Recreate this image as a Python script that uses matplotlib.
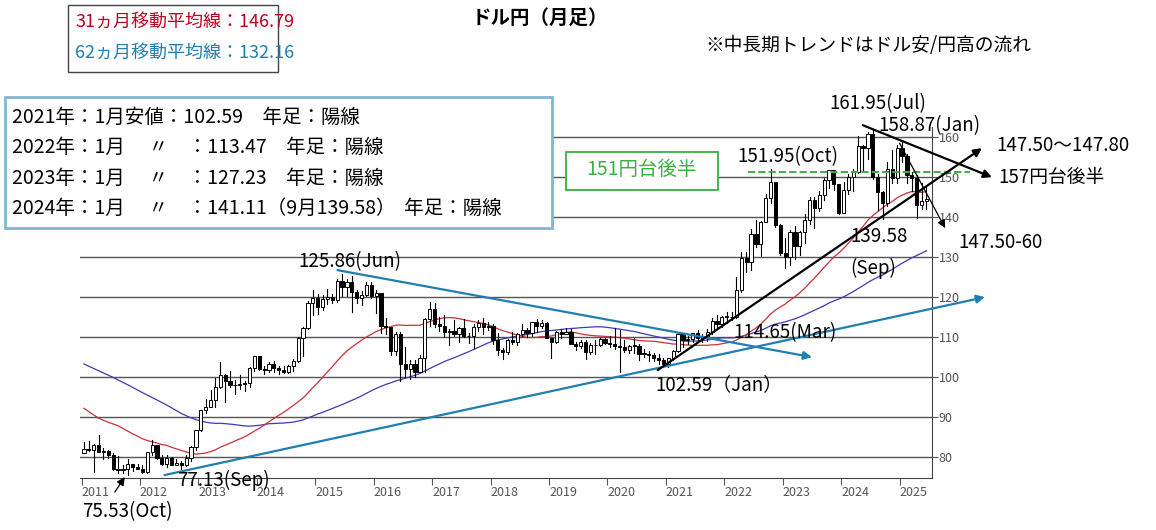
import numpy as np
import matplotlib
matplotlib.use("Agg")
import matplotlib.pyplot as plt
from matplotlib.patches import Rectangle

plt.rcParams["font.family"] = ["Noto Sans CJK JP", "DejaVu Sans"]

# closes before 2011 (Nov 2005 - Dec 2010), used for moving averages
prior_close = [119.8, 117.9,
 117.2,115.8,117.5,113.8,112.6,114.4,114.6,117.4,118.1,117.0,115.8,119.0,
 121.0,118.6,117.8,119.5,121.7,123.2,118.7,115.8,114.9,115.3,111.2,111.7,
 106.4,103.9,99.7,103.9,105.5,106.2,107.9,108.8,106.0,98.4,95.5,90.6,
 89.9,97.6,98.9,98.5,95.4,96.4,94.7,93.0,89.7,89.9,86.3,93.0,
 90.3,89.0,93.4,94.0,91.2,88.4,86.5,84.2,83.5,80.4,83.7,81.1]

# monthly OHLC Jan 2011 - Jun 2025
ohlc = [
 (81.1,83.7,81.5,82.0),(82.0,84.0,81.5,81.8),(81.8,83.3,76.3,83.1),(83.1,85.5,81.3,81.2),
 (81.2,82.2,79.6,81.5),(81.5,81.7,79.7,80.5),(80.5,81.0,76.8,77.0),(77.0,80.2,75.9,76.7),
 (76.7,77.9,75.9,77.0),(77.0,79.5,75.53,78.2),(78.2,78.3,76.6,77.6),(77.6,78.3,76.9,76.9),
 (76.9,77.9,76.0,76.2),(76.2,81.2,76.1,81.2),(81.2,84.2,80.6,82.9),(82.9,83.0,79.6,79.8),
 (79.8,80.4,78.0,78.3),(78.3,80.6,77.6,79.8),(79.8,79.9,77.9,78.1),(78.1,79.6,77.9,78.4),
 (78.4,78.9,77.13,77.9),(77.9,80.4,77.8,79.8),(79.8,82.8,79.0,82.5),(82.5,86.6,81.7,86.7),
 (86.7,91.7,86.5,91.7),(91.7,94.5,90.9,92.6),(92.6,96.7,92.6,94.2),(94.2,99.9,92.6,97.5),
 (97.5,103.7,97.2,100.5),(100.5,100.9,93.8,99.1),(99.1,101.5,97.6,97.9),(97.9,99.2,95.8,98.1),
 (98.1,100.6,96.9,98.3),(98.3,99.0,96.6,98.4),(98.4,102.6,97.6,102.4),(102.4,105.4,101.6,105.3),
 (105.3,105.4,101.8,102.0),(102.0,102.8,100.8,101.8),(101.8,103.8,101.2,103.2),(103.2,104.1,101.4,102.2),
 (102.2,102.8,100.8,101.8),(101.8,102.8,101.0,101.3),(101.3,103.1,101.0,102.8),(102.8,104.5,101.5,104.1),
 (104.1,110.1,103.8,109.7),(109.7,112.5,105.2,112.3),(112.3,118.98,112.0,118.6),(118.6,121.8,115.6,119.8),
 (119.8,120.8,115.9,117.5),(117.5,120.5,116.9,119.6),(119.6,122.0,118.3,120.1),(120.1,120.8,118.5,119.4),
 (119.4,124.5,118.9,124.1),(124.1,125.86,120.4,122.5),(122.5,124.6,120.4,123.9),(123.9,125.3,116.2,121.2),
 (121.2,121.7,118.6,119.9),(119.9,121.5,118.1,120.6),(120.6,123.8,120.3,123.1),(123.1,123.7,119.9,120.2),
 (120.2,121.7,115.97,121.0),(121.0,121.0,110.98,112.7),(112.7,114.9,110.7,112.5),(112.5,112.5,105.5,106.5),
 (106.5,111.4,105.5,110.7),(110.7,111.4,99.0,103.2),(103.2,107.5,99.99,102.1),(102.1,104.3,99.5,103.4),
 (103.4,104.3,100.1,101.3),(101.3,105.5,101.2,104.8),(104.8,114.8,101.2,114.5),(114.5,118.66,112.9,117.0),
 (117.0,118.6,112.5,113.2),(113.2,115.0,111.6,112.8),(112.8,115.5,110.1,111.4),(111.4,112.0,108.1,111.5),
 (111.5,114.4,110.2,110.8),(110.8,112.5,108.8,112.4),(112.4,114.5,110.0,110.3),(110.3,111.0,108.6,110.2),
 (110.2,113.2,107.3,112.5),(112.5,114.4,111.6,113.6),(113.6,114.7,110.8,112.5),(112.5,113.7,111.9,112.7),
 (112.7,113.4,108.3,109.2),(109.2,111.0,105.5,106.7),(106.7,107.3,104.6,106.3),(106.3,109.5,105.7,109.3),
 (109.3,111.4,108.2,108.8),(108.8,111.0,108.1,110.7),(110.7,113.2,110.3,111.9),(111.9,112.2,110.0,111.0),
 (111.0,113.7,110.4,113.7),(113.7,114.5,111.4,112.9),(112.9,114.2,112.3,113.5),(113.5,113.8,110.3,109.7),
 (109.7,109.7,104.7,108.9),(108.9,111.5,108.5,111.4),(111.4,112.1,109.7,110.9),(110.9,112.4,110.8,111.4),
 (111.4,112.0,108.3,108.3),(108.3,108.8,106.8,107.9),(107.9,109.3,107.2,108.8),(108.8,109.3,104.5,106.3),
 (106.3,108.5,105.7,108.1),(108.1,109.3,105.9,108.0),(108.0,109.7,107.9,109.5),(109.5,109.7,108.4,108.6),
 (108.6,110.3,107.6,108.4),(108.4,112.2,107.0,107.9),(107.9,111.7,101.2,107.5),(107.5,109.4,106.4,106.9),
 (106.9,108.1,105.99,107.8),(107.8,109.8,106.1,107.9),(107.9,108.2,104.2,105.9),(105.9,107.0,105.1,105.9),
 (105.9,106.6,104.0,105.5),(105.5,106.1,104.0,104.7),(104.7,105.7,103.2,104.3),(104.3,104.8,102.9,103.3),
 (103.3,104.9,102.59,104.7),(104.7,106.7,104.4,106.6),(106.6,110.97,106.4,110.7),(110.7,110.97,107.5,109.3),
 (109.3,110.2,108.3,109.6),(109.6,111.1,108.9,111.1),(111.1,111.7,109.1,109.7),(109.7,110.8,108.7,110.0),
 (110.0,112.1,109.1,111.3),(111.3,114.7,110.8,114.0),(114.0,115.5,112.5,113.2),(113.2,115.2,112.5,115.1),
 (115.1,116.35,113.47,115.1),(115.1,116.3,114.2,115.0),(115.0,125.1,114.7,121.7),(121.7,131.3,121.3,129.8),
 (129.8,131.3,126.4,128.7),(128.7,137.0,126.9,135.7),(135.7,139.4,132.5,133.2),(133.2,139.1,130.4,138.9),
 (138.9,145.9,138.8,144.7),(144.7,151.95,143.5,148.7),(148.7,148.8,137.5,138.0),(138.0,138.2,130.6,131.1),
 (131.1,134.8,127.23,130.1),(130.1,136.9,128.1,136.2),(136.2,137.9,129.6,132.8),(132.8,136.6,130.6,136.3),
 (136.3,140.9,133.5,139.3),(139.3,145.0,138.4,144.3),(144.3,145.1,137.2,142.3),(142.3,146.6,141.5,145.5),
 (145.5,149.7,144.4,149.4),(149.4,151.7,147.3,151.7),(151.7,151.9,146.7,148.2),(148.2,148.3,140.9,141.0),
 (141.0,148.8,141.11,146.9),(146.9,150.9,145.9,150.0),(150.0,151.97,146.5,151.3),(151.3,160.2,151.0,157.8),
 (157.8,157.99,151.9,157.3),(157.3,161.3,154.5,160.9),(160.9,161.95,149.6,150.0),(150.0,150.9,141.7,146.2),
 (146.2,146.5,139.58,143.6),(143.6,153.9,142.9,152.0),(152.0,156.75,148.6,149.8),(149.8,158.1,148.6,157.2),
 (157.2,158.87,153.7,155.2),(155.2,155.9,148.6,150.6),(150.6,151.3,146.5,149.9),(149.9,150.5,139.9,143.1),
 (143.1,148.6,142.1,144.0),(144.0,148.0,142.1,144.5),
]
start_year = 2011
year_ticks = list(range(2011, 2026))
price_ticks = [80, 90, 100, 110, 120, 130, 140, 150, 160]

o = np.array([r[0] for r in ohlc]); h = np.array([r[1] for r in ohlc])
l = np.array([r[2] for r in ohlc]); c = np.array([r[3] for r in ohlc])
n = len(ohlc)
x = start_year + (np.arange(n) + 0.5) / 12
allc = np.concatenate([prior_close, c])
def ma(k):
    return np.array([allc[len(prior_close)+i-k+1: len(prior_close)+i+1].mean() for i in range(n)])
ma31, ma62 = ma(31), ma(62)

fig = plt.figure(figsize=(11.56, 5.30), dpi=100)
ax = fig.add_axes([0.069, 0.098, 0.737, 0.662])
ax.set_xlim(2010.97, 2025.55)
ax.set_ylim(74.75, 162.5)
for v in price_ticks:
    ax.axhline(v, color="#555555", lw=1.0, zorder=1)

ax.plot(x, ma62, color="#3b3bb5", lw=0.9, zorder=2)
ax.plot(x, ma31, color="#c8303c", lw=0.9, zorder=2)

w = 0.055
for xi, oi, hi, li, ci in zip(x, o, h, l, c):
    ax.plot([xi, xi], [li, hi], color="black", lw=0.8, zorder=3)
    bot, top = min(oi, ci), max(oi, ci)
    ax.add_patch(Rectangle((xi - w/2, bot), w, max(top - bot, 0.15),
                           facecolor="black" if ci < oi else "white",
                           edgecolor="black", lw=0.7, zorder=4))

for s in ["top", "left"]:
    ax.spines[s].set_visible(False)
for s in ["bottom", "right"]:
    ax.spines[s].set_color("#444444")
ax.yaxis.tick_right()
ax.set_yticks(price_ticks)
ax.tick_params(axis="y", length=4, labelsize=9, colors="#555555", pad=1)
ax.set_xticks(year_ticks)
ax.set_xticklabels([str(y) for y in year_ticks], ha="left", fontsize=9, color="#555555")
ax.tick_params(axis="x", length=5, pad=1, colors="#555555")

def arrowline(p0, p1, color, lw=1.6, head=True):
    ax.annotate("", xy=p1, xytext=p0, annotation_clip=False,
                arrowprops=dict(arrowstyle="-|>" if head else "-", color=color, lw=lw,
                                mutation_scale=12, shrinkA=0, shrinkB=0), zorder=6)
arrowline((2015.38, 126.75), (2023.5, 105.0), "#1f7fb0")
arrowline((2012.42, 75.5), (2026.46, 120.0), "#1f7fb0")
arrowline((2020.86, 101.75), (2026.41, 157.25), "black")
arrowline((2024.37, 163.0), (2026.58, 150.0), "black")
arrowline((2025.0, 158.5), (2025.78, 137.25), "black", lw=0.9)
arrowline((2011.57, 71.25), (2011.74, 75.0), "black", lw=0.9)
ax.plot([2022.4, 2026.2], [151.25, 151.25], color="#3cb043", lw=1.4, ls="--", clip_on=False, zorder=5)

def ft(px, py, s, **kw):
    fig.text(px / 1156, 1 - py / 530, s, va="center", **kw)

ft(540, 18, "ドル円（月足）", fontsize=14, fontweight="bold", ha="center")
ft(705, 45, "※中長期トレンドはドル安/円高の流れ", fontsize=13.5)
fig.patches.append(Rectangle((68/1156, 1-72/530), 210/1156, 67/530, transform=fig.transFigure,
                             fill=False, edgecolor="#444444", lw=1.0))
ft(75, 22, "31ヵ月移動平均線：146.79", fontsize=13, color="#c00020")
ft(75, 53, "62ヵ月移動平均線：132.16", fontsize=13, color="#1f7fb0")
fig.patches.append(Rectangle((5/1156, 1-228/530), 547/1156, 131/530, transform=fig.transFigure,
                             facecolor="white", edgecolor="#7fb8d0", lw=2.0, zorder=10))
lines = ["2021年：1月安値：102.59　年足：陽線",
         "2022年：1月　 〃　：113.47　年足：陽線",
         "2023年：1月　 〃　：127.23　年足：陽線",
         "2024年：1月　 〃　：141.11（9月139.58）  年足：陽線"]
for i, s in enumerate(lines):
    ft(12, 117 + 30.5 * i, s, fontsize=14, zorder=11)
fig.patches.append(Rectangle((566/1156, 1-190/530), 152/1156, 38/530, transform=fig.transFigure,
                             facecolor="white", edgecolor="#3cb043", lw=1.3, zorder=10))
ft(642, 170, "151円台後半", fontsize=14, color="#3cb043", ha="center", zorder=11)

fs = 13.5
ft(878, 104, "161.95(Jul)", fontsize=fs, ha="center")
ft(878, 126, "158.87(Jan)", fontsize=fs)
ft(996, 146, "147.50～147.80", fontsize=fs)
ft(998, 177, "157円台後半", fontsize=fs)
ft(737, 157, "151.95(Oct)", fontsize=fs)
ft(958, 242, "147.50-60", fontsize=fs)
ft(850, 237, "139.58", fontsize=fs)
ft(850, 268, "(Sep)", fontsize=fs)
ft(298, 262, "125.86(Jun)", fontsize=fs)
ft(733, 333, "114.65(Mar)", fontsize=fs)
ft(655, 385, "102.59（Jan）", fontsize=fs)
ft(177, 480, "77.13(Sep)", fontsize=fs)
ft(82, 512, "75.53(Oct)", fontsize=fs)

fig.savefig("out.png", dpi=100)
